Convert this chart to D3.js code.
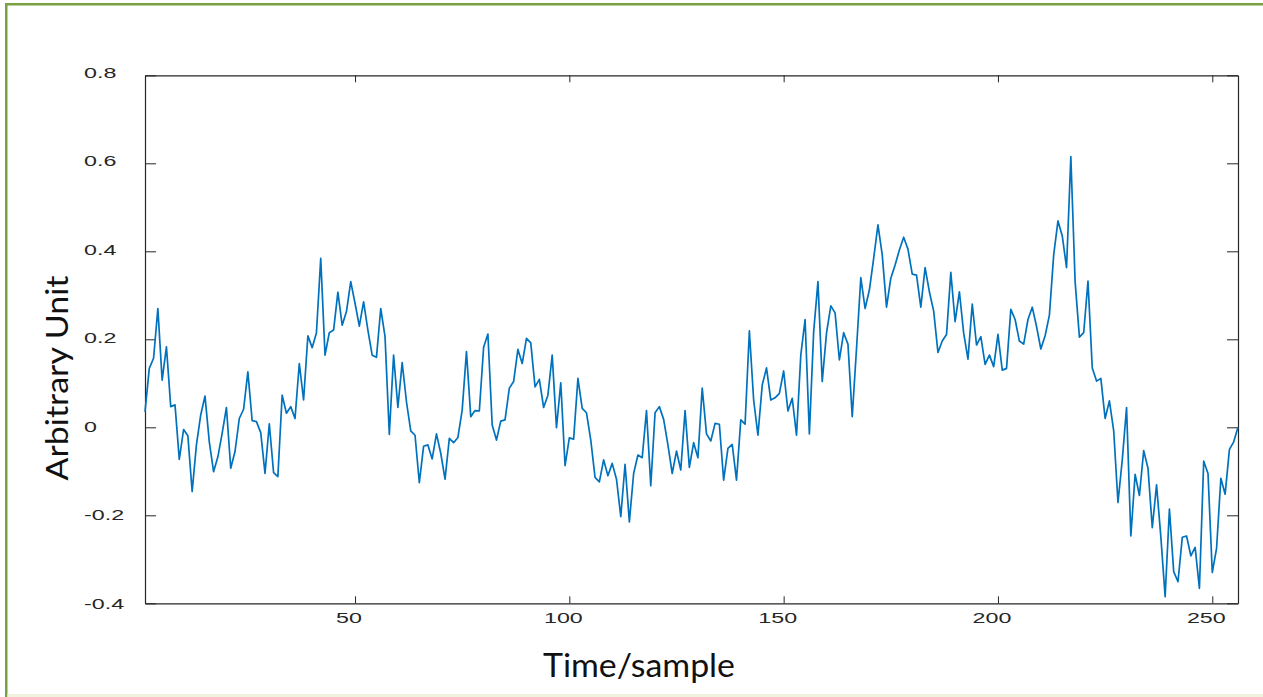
<!DOCTYPE html>
<html>
<head>
<meta charset="utf-8">
<script src="https://cdn.jsdelivr.net/npm/d3@7"></script>
<style>
  body { margin: 0; background: #fff; }
  svg { display: block; }
</style>
</head>
<body>
<div id="chart"></div>
<script>
// sinal (amostras 1..256)
const samples = d3.range(1, 257);
const signal = [
  0.035, 0.134, 0.157, 0.270, 0.107, 0.183, 0.047, 0.051, -0.073, -0.005,
  -0.019, -0.146, -0.040, 0.028, 0.071, -0.033, -0.101, -0.067, -0.014, 0.045,
  -0.093, -0.055, 0.020, 0.041, 0.126, 0.015, 0.013, -0.012, -0.105, 0.008,
  -0.103, -0.112, 0.073, 0.032, 0.047, 0.020, 0.145, 0.062, 0.208, 0.181,
  0.215, 0.384, 0.164, 0.215, 0.221, 0.307, 0.232, 0.263, 0.331, 0.282,
  0.230, 0.285, 0.221, 0.164, 0.159, 0.270, 0.206, -0.016, 0.164, 0.045,
  0.147, 0.058, -0.008, -0.018, -0.126, -0.043, -0.040, -0.072, -0.015, -0.059,
  -0.118, -0.025, -0.035, -0.023, 0.039, 0.172, 0.024, 0.038, 0.037, 0.182,
  0.212, 0.005, -0.029, 0.014, 0.017, 0.089, 0.104, 0.177, 0.145, 0.202,
  0.192, 0.092, 0.109, 0.045, 0.073, 0.164, -0.001, 0.101, -0.087, -0.024,
  -0.027, 0.111, 0.043, 0.033, -0.029, -0.114, -0.124, -0.074, -0.110, -0.082,
  -0.118, -0.203, -0.084, -0.215, -0.105, -0.063, -0.069, 0.038, -0.133, 0.033,
  0.047, 0.018, -0.040, -0.105, -0.054, -0.097, 0.038, -0.091, -0.035, -0.069,
  0.089, -0.015, -0.031, 0.009, 0.007, -0.120, -0.048, -0.039, -0.120, 0.017,
  0.007, 0.219, 0.062, -0.018, 0.096, 0.135, 0.062, 0.067, 0.077, 0.128,
  0.037, 0.066, -0.018, 0.164, 0.245, -0.015, 0.217, 0.331, 0.104, 0.214,
  0.276, 0.260, 0.153, 0.215, 0.189, 0.024, 0.179, 0.340, 0.270, 0.312,
  0.384, 0.460, 0.392, 0.273, 0.339, 0.369, 0.403, 0.432, 0.405, 0.348,
  0.346, 0.273, 0.363, 0.308, 0.264, 0.170, 0.196, 0.211, 0.352, 0.240,
  0.308, 0.214, 0.155, 0.280, 0.187, 0.206, 0.143, 0.164, 0.138, 0.211,
  0.130, 0.134, 0.268, 0.245, 0.196, 0.189, 0.245, 0.273, 0.229, 0.178,
  0.208, 0.255, 0.392, 0.469, 0.435, 0.363, 0.615, 0.331, 0.205, 0.215,
  0.332, 0.135, 0.105, 0.111, 0.020, 0.060, -0.008, -0.171, -0.074, 0.045,
  -0.247, -0.107, -0.155, -0.053, -0.093, -0.228, -0.131, -0.249, -0.385, -0.186,
  -0.328, -0.351, -0.250, -0.247, -0.292, -0.273, -0.366, -0.077, -0.105, -0.330,
  -0.275, -0.116, -0.152, -0.050, -0.033, 0.000
];

// ticks
const xTicks = [50, 100, 150, 200, 250];
const yTicks = [-0.4, -0.2, 0, 0.2, 0.4, 0.6, 0.8];

const config = {width: 1263, height: 697, left: 145, top: 75.3, right: 25, bottom: 93.7};
const pw = config.width - config.left - config.right;
const ph = config.height - config.top - config.bottom;

const svg = d3.select("#chart").append("svg")
    .attr("width", config.width)
    .attr("height", config.height);

// moldura verde (esquerda e topo) + faixa clara embaixo
svg.append("rect").attr("x", 5).attr("y", 3).attr("width", config.width - 5).attr("height", 2.5).attr("fill", "#78a23f");
svg.append("rect").attr("x", 5).attr("y", 3).attr("width", 2.5).attr("height", config.height - 3).attr("fill", "#78a23f");
svg.append("rect").attr("x", 7.5).attr("y", 694).attr("width", config.width).attr("height", 3).attr("fill", "#f1f3df");

const x = d3.scaleLinear().domain([1, 256]).range([0, pw]);
const y = d3.scaleLinear().domain([-0.4, 0.8]).range([ph, 0]);

const g = svg.append("g").attr("transform", `translate(${config.left},${config.top})`);

const axisColor = "#262626";
const tickFont = "'Liberation Sans', Arial, sans-serif";
const stretch = 1.55; // a figura original está esticada na horizontal

// eixos estilo matlab: ticks pra dentro
const xBottom = g.append("g").attr("transform", `translate(0,${ph})`)
    .call(d3.axisBottom(x).tickValues(xTicks).tickSizeInner(-7).tickSizeOuter(0).tickPadding(14));
const xTop = g.append("g")
    .call(d3.axisTop(x).tickValues(xTicks).tickSizeInner(-7).tickSizeOuter(0).tickFormat(""));
const yLeft = g.append("g")
    .call(d3.axisLeft(y).tickValues(yTicks).tickSizeInner(-11).tickSizeOuter(0).tickFormat(d => String(d)));
const yRight = g.append("g").attr("transform", `translate(${pw},0)`)
    .call(d3.axisRight(y).tickValues(yTicks).tickSizeInner(-11).tickSizeOuter(0).tickFormat(""));

[xBottom, xTop, yLeft, yRight].forEach(a => {
    a.select(".domain").attr("stroke", axisColor).attr("stroke-width", 1.2);
    a.selectAll(".tick line").attr("stroke", axisColor).attr("stroke-width", 1);
});

xBottom.selectAll(".tick text")
    .attr("dy", "0.4em")
    .style("font-family", tickFont)
    .style("font-size", "15px")
    .attr("fill", axisColor);

yLeft.selectAll(".tick text")
    .attr("x", 84 - config.left)
    .attr("text-anchor", "start")
    .attr("dy", d => (0.32 - (d + 0.4) * 0.15) + "em")
    .style("font-family", tickFont)
    .style("font-size", "15px")
    .attr("fill", axisColor);

// estica os rótulos igual a imagem
g.selectAll(".tick text").each(function() {
    const w = this.getComputedTextLength();
    if (w > 0) d3.select(this).attr("textLength", w * stretch).attr("lengthAdjust", "spacingAndGlyphs");
});
// x: rótulo centrado um pouco à esquerda do tick (como na figura)
xBottom.selectAll(".tick text").each(function() {
    const w = +this.getAttribute("textLength");
    d3.select(this).attr("text-anchor", "start").attr("x", -6.5 - w / 2);
});

// a linha do sinal
const line = d3.line()
    .x((d, i) => x(samples[i]))
    .y(d => y(d));

g.append("path")
    .datum(signal)
    .attr("fill", "none")
    .attr("stroke", "#0072BD")
    .attr("stroke-width", 1.7)
    .attr("stroke-linejoin", "round")
    .attr("d", line);

// títulos dos eixos
svg.append("text")
    .attr("x", 639)
    .attr("y", 677)
    .attr("text-anchor", "middle")
    .attr("textLength", 192)
    .attr("lengthAdjust", "spacingAndGlyphs")
    .style("font-family", "Lato, 'Noto Sans', sans-serif")
    .style("font-size", "32px")
    .attr("fill", "#111")
    .text("Time/sample");

svg.append("text")
    .attr("transform", "translate(68,378) rotate(-90)")
    .attr("text-anchor", "middle")
    .attr("textLength", 205)
    .attr("lengthAdjust", "spacingAndGlyphs")
    .style("font-family", "Lato, 'Noto Sans', sans-serif")
    .style("font-size", "31px")
    .attr("fill", "#111")
    .text("Arbitrary Unit");
</script>
</body>
</html>
